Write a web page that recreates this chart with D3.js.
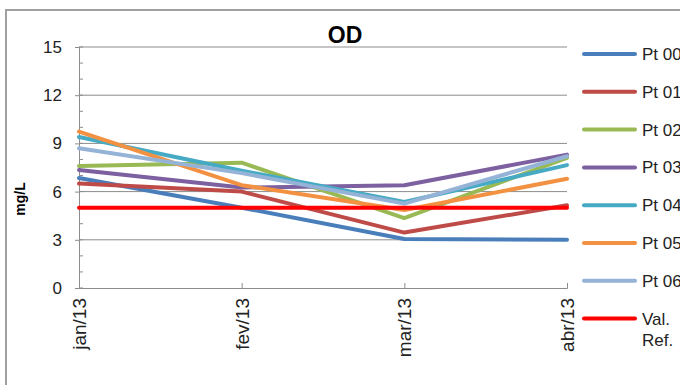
<!DOCTYPE html>
<html><head><meta charset="utf-8">
<script src="https://cdn.jsdelivr.net/npm/d3@7"></script>
<style>body{margin:0;background:#fff}svg{display:block;font-family:"Liberation Sans",Arial,sans-serif}</style>
</head><body><svg id="c" width="680" height="385"></svg>
<script>
const categories = ["jan/13","fev/13","mar/13","abr/13"];
const seriesNames = ["Pt 00","Pt 01","Pt 02","Pt 03","Pt 04","Pt 05","Pt 06","Val. Ref."];
const pt00 = [6.85, 5.0, 3.05, 3.0];
const pt01 = [6.5, 6.0, 3.45, 5.15];
const pt02 = [7.6, 7.8, 4.35, 8.1];
const pt03 = [7.35, 6.25, 6.4, 8.3];
const pt04 = [9.4, 7.3, 5.35, 7.65];
const pt05 = [9.73, 6.4, 4.85, 6.8];
const pt06 = [8.7, 7.15, 5.25, 8.2];
const valRef = [5, 5, 5, 5];
const yTicks = [0, 3, 6, 9, 12, 15];
const colors = ["#4a7ebb","#be4b48","#98b954","#7d60a0","#46aac5","#f39142","#95b3d7","#ff0000"];
const values = [pt00, pt01, pt02, pt03, pt04, pt05, pt06, valRef];

const svg = d3.select("#c");
const L = 79, R = 567, T = 47, B = 288;
const x = d3.scalePoint().domain(categories).range([L, R]);
const y = d3.scaleLinear().domain([0, 15]).range([B, T]);

// chart border
svg.append("rect").attr("x", 6).attr("y", 10).attr("width", 720).attr("height", 420)
  .attr("fill", "none").attr("stroke", "#a0a0a0").attr("stroke-width", 2);

// title
svg.append("text").attr("x", 345).attr("y", 43).attr("text-anchor", "middle")
  .attr("font-size", 23).attr("font-weight", "bold").text("OD");

// gridlines
svg.append("g").selectAll("line").data(yTicks.filter(d => d > 0)).join("line")
  .attr("x1", L).attr("x2", R).attr("y1", d => y(d)).attr("y2", d => y(d))
  .attr("stroke", "#8c8c8c").attr("stroke-width", 1);

// y minor ticks
svg.append("g").selectAll("line").data(d3.range(0, 16)).join("line")
  .attr("x1", L).attr("x2", L + 4).attr("y1", d => y(d)).attr("y2", d => y(d))
  .attr("stroke", "#8c8c8c");

// y axis
const yAxis = svg.append("g").attr("transform", `translate(${L},0)`)
  .call(d3.axisLeft(y).tickValues(yTicks).tickSize(4).tickPadding(13));
yAxis.select(".domain").attr("stroke", "#8c8c8c");
yAxis.selectAll(".tick line").attr("stroke", "#8c8c8c");
yAxis.selectAll("text").attr("font-size", 17).attr("fill", "#222").attr("font-family", "Liberation Sans, Arial");

// x axis
const xAxis = svg.append("g").attr("transform", `translate(0,${B})`)
  .call(d3.axisBottom(x).tickSize(-5).tickPadding(0));
xAxis.select(".domain").attr("stroke", "#8c8c8c");
xAxis.selectAll(".tick line").attr("stroke", "#8c8c8c");
xAxis.selectAll("text").attr("font-size", 19).attr("fill", "#222")
  .attr("font-family", "Liberation Sans, Arial")
  .attr("text-anchor", "end").attr("dy", "0.35em")
  .attr("transform", "translate(0,10) rotate(-90)");

// y title
svg.append("text").attr("transform", "translate(25,199) rotate(-90)")
  .attr("text-anchor", "middle").attr("font-size", 14).attr("font-weight", "bold").text("mg/L");

// lines
const line = d3.line().x((d, i) => x(categories[i])).y(d => y(d));
svg.append("g").selectAll("path").data(values).join("path")
  .attr("d", d => line(d)).attr("fill", "none")
  .attr("stroke", (d, i) => colors[i]).attr("stroke-width", 4)
  .attr("stroke-linejoin", "round").attr("stroke-linecap", "round");

// legend
const lg = svg.append("g");
seriesNames.forEach((n, i) => {
  const yy = 54 + i * 37.8;
  lg.append("line").attr("x1", 584).attr("x2", 635).attr("y1", yy).attr("y2", yy)
    .attr("stroke", colors[i]).attr("stroke-width", 4).attr("stroke-linecap", "round");
  const t = lg.append("text").attr("x", 642).attr("y", yy + 6).attr("font-size", 17).attr("fill", "#222");
  if (n === "Val. Ref.") {
    t.append("tspan").attr("x", 642).text("Val.");
    t.append("tspan").attr("x", 642).attr("dy", 21).text("Ref.");
  } else t.text(n);
});
</script></body></html>
